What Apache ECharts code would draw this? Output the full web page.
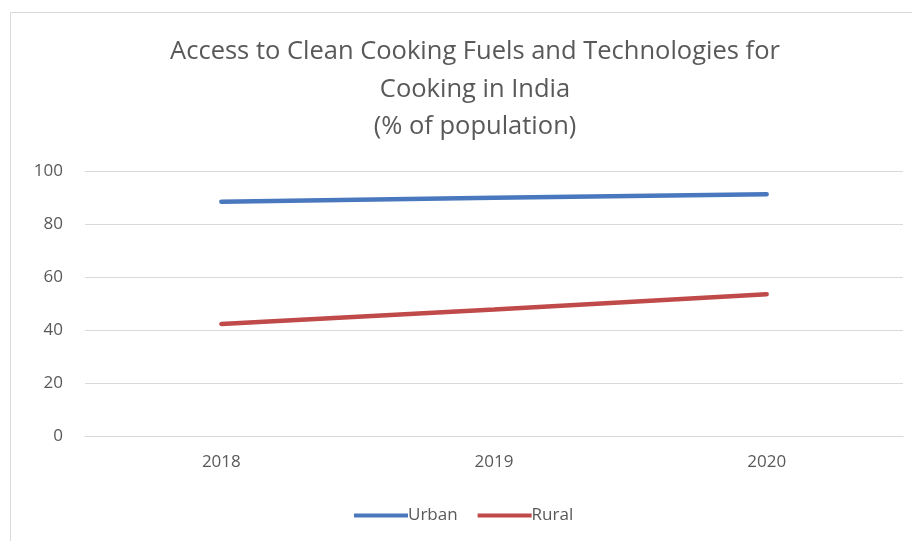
<!DOCTYPE html>
<html><head><meta charset="utf-8">
<script src="https://cdn.jsdelivr.net/npm/echarts@6/dist/echarts.min.js"></script>
<style>html,body{margin:0;padding:0;background:#fff}#c{width:912px;height:541px}</style>
</head><body><div id="c"></div>
<script>
const categories = ['2018', '2019', '2020'];
const urban = [88.4, 89.9, 91.2];
const rural = [42.3, 47.7, 53.5];
const yTicks = [0, 20, 40, 60, 80, 100];

const chart = echarts.init(document.getElementById('c'), null, {renderer: 'canvas'});
const font = '"Open Sans", Lato, sans-serif';
chart.setOption({
  animation: false,
  backgroundColor: '#fff',
  graphic: [{
    type: 'rect', silent: true,
    shape: {x: 10.5, y: 12.5, width: 1000, height: 1000},
    style: {fill: 'none', stroke: '#d9d9d9', lineWidth: 1}
  }],
  title: {
    text: 'Access to Clean Cooking Fuels and Technologies for\nCooking in India\n(% of population)',
    left: 470, top: 28, textAlign: 'center',
    textStyle: {fontFamily: font, fontSize: 25.5, fontWeight: 'normal', color: '#595959', lineHeight: 37.5}
  },
  legend: {
    top: 502, left: 349, itemWidth: 54, itemHeight: 4, itemGap: 20,
    icon: 'rect',
    textStyle: {fontFamily: font, fontSize: 17, color: '#595959', padding: [0, 0, 0, -5]},
    data: ['Urban', 'Rural']
  },
  grid: {left: 85, right: 9, top: 171, bottom: 105, containLabel: false},
  xAxis: {
    type: 'category', data: categories, boundaryGap: true,
    axisLine: {show: true, lineStyle: {color: '#d9d9d9'}},
    axisTick: {show: false},
    axisLabel: {fontFamily: font, fontSize: 17, color: '#595959', margin: 18}
  },
  yAxis: {
    type: 'value', min: yTicks[0], max: yTicks[yTicks.length - 1], interval: 20,
    axisLine: {show: false}, axisTick: {show: false},
    axisLabel: {fontFamily: font, fontSize: 17, color: '#595959', margin: 22},
    splitLine: {lineStyle: {color: '#d9d9d9', width: 1}}
  },
  series: [
    {name: 'Urban', type: 'line', data: urban, symbol: 'none', itemStyle: {color: '#4a78be'},
     lineStyle: {width: 4.5, color: '#4a78be', cap: 'round'}},
    {name: 'Rural', type: 'line', data: rural, symbol: 'none', itemStyle: {color: '#c0494a'},
     lineStyle: {width: 4.5, color: '#c0494a', cap: 'round'}}
  ]
});
</script></body></html>
